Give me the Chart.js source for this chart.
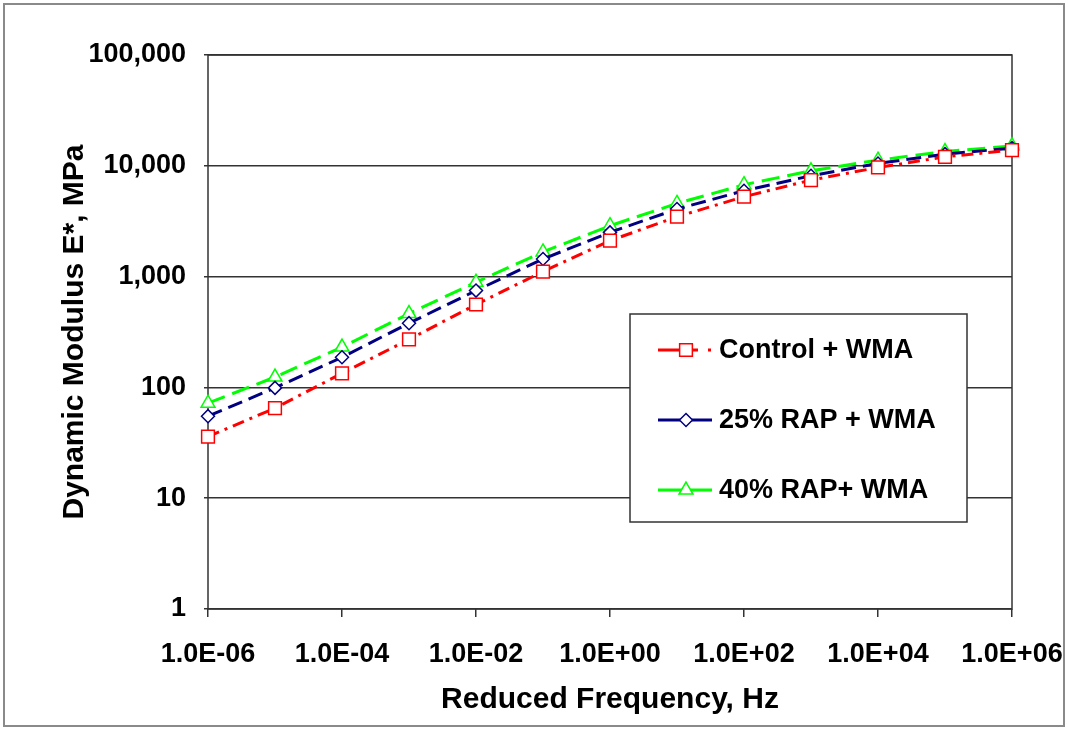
<!DOCTYPE html>
<html>
<head>
<meta charset="utf-8">
<title>Dynamic Modulus</title>
<script src="https://cdn.jsdelivr.net/npm/chart.js@4.4.1/dist/chart.umd.min.js"></script>
<style>
  html, body { margin: 0; padding: 0; background: #fff; }
  #wrap { position: absolute; left: 0; top: 0; width: 1068px; height: 729px; }
</style>
</head>
<body>
<div id="wrap"><canvas id="modulusChart"></canvas></div>
<script>
// reduced frequency, Hz (one point per decade)
const frequencies = [1e-6, 1e-5, 1e-4, 1e-3, 1e-2, 1e-1, 1e0, 1e1, 1e2, 1e3, 1e4, 1e5, 1e6];
// dynamic modulus E*, MPa
const controlWma = [36, 65, 134, 271, 560, 1110, 2110, 3470, 5260, 7430, 9660, 12050, 13850];
const rap25Wma   = [55, 99, 187, 380, 748, 1443, 2506, 4070, 5960, 8130, 10500, 12750, 14440];
const rap40Wma   = [72, 124, 231, 464, 889, 1670, 2880, 4575, 6750, 9020, 11250, 13450, 15140];
const seriesNames = ['Control + WMA', '25% RAP + WMA', '40% RAP+ WMA'];
const xTickValues = [1e-6, 1e-4, 1e-2, 1e0, 1e2, 1e4, 1e6];
const yTickValues = [1, 10, 100, 1000, 10000, 100000];

const FONT = '"Liberation Sans", Arial, sans-serif';

const toPoints = (ys) => frequencies.map((f, i) => ({ x: f, y: ys[i] }));

const fmtExp = (v) => {
    const e = Math.round(Math.log10(v));
    const sign = e < 0 ? '-' : '+';
    return '1.0E' + sign + String(Math.abs(e)).padStart(2, '0');
};

// draw marker shapes for the legend box
const drawMarker = (ctx, style, x, y, r, color) => {
    ctx.save();
    ctx.fillStyle = '#fff';
    ctx.strokeStyle = color;
    ctx.lineWidth = 1.5;
    ctx.setLineDash([]);
    ctx.beginPath();
    if (style === 'rect') {
        const s = r * Math.SQRT1_2;
        ctx.rect(x - s, y - s, 2 * s, 2 * s);
    } else if (style === 'rectRot') {
        ctx.moveTo(x, y - r); ctx.lineTo(x + r, y); ctx.lineTo(x, y + r); ctx.lineTo(x - r, y); ctx.closePath();
    } else {
        ctx.moveTo(x, y - r);
        ctx.lineTo(x + r * Math.cos(Math.PI / 6), y + r / 2);
        ctx.lineTo(x - r * Math.cos(Math.PI / 6), y + r / 2);
        ctx.closePath();
    }
    ctx.fill();
    ctx.stroke();
    ctx.restore();
};

const framePlugin = {
    id: 'frame',
    beforeDatasetsDraw(chart) {
        const { ctx, chartArea: a } = chart;
        ctx.save();
        ctx.strokeStyle = '#333';
        ctx.lineWidth = 1.5;
        ctx.strokeRect(a.left, a.top, a.right - a.left, a.bottom - a.top);
        ctx.restore();
    },
    afterDraw(chart) {
        const { ctx, width, height } = chart;
        ctx.save();
        ctx.strokeStyle = '#8a8a8a';
        ctx.lineWidth = 2;
        ctx.strokeRect(4, 4, width - 8, height - 7);
        ctx.restore();
    }
};

const boxLegend = {
    id: 'boxLegend',
    afterDatasetsDraw(chart) {
        const { ctx, chartArea: a } = chart;
        const bx = a.left + 422, by = a.top + 259, bw = 337, bh = 208;
        ctx.save();
        ctx.fillStyle = '#fff';
        ctx.fillRect(bx, by, bw, bh);
        ctx.strokeStyle = '#333';
        ctx.lineWidth = 1.5;
        ctx.strokeRect(bx, by, bw, bh);
        const rows = [36, 106, 176];
        chart.data.datasets.forEach((ds, i) => {
            const y = by + rows[i];
            ctx.strokeStyle = ds.borderColor;
            ctx.lineWidth = 3;
            ctx.setLineDash(i === 0 ? [40, 10, 3, 50] : []);
            ctx.beginPath();
            ctx.moveTo(bx + 28, y);
            ctx.lineTo(bx + 82, y);
            ctx.stroke();
            drawMarker(ctx, ds.pointStyle, bx + 56, y, ds.pointRadius, ds.borderColor);
            ctx.fillStyle = '#000';
            ctx.font = 'bold 27px ' + FONT;
            ctx.textBaseline = 'middle';
            ctx.textAlign = 'left';
            ctx.fillText(ds.label, bx + 89, y + 1);
        });
        ctx.restore();
    }
};

const ctx = document.getElementById('modulusChart').getContext('2d');
const myChart = new Chart(ctx, {
    type: 'line',
    data: {
        datasets: [
            {
                label: seriesNames[0],
                data: toPoints(controlWma),
                borderColor: '#ff0000',
                borderWidth: 3,
                borderDash: [12, 6, 3, 6],
                pointStyle: 'rect',
                pointRadius: 9,
                pointBackgroundColor: '#fff',
                pointBorderColor: '#ff0000',
                pointBorderWidth: 1.5,
                clip: false
            },
            {
                label: seriesNames[1],
                data: toPoints(rap25Wma),
                borderColor: '#000080',
                borderWidth: 3,
                borderDash: [15, 7],
                pointStyle: 'rectRot',
                pointRadius: 6.5,
                pointBackgroundColor: '#fff',
                pointBorderColor: '#000080',
                pointBorderWidth: 1.5,
                clip: false
            },
            {
                label: seriesNames[2],
                data: toPoints(rap40Wma),
                borderColor: '#00ff00',
                borderWidth: 3,
                borderDash: [18, 8],
                pointStyle: 'triangle',
                pointRadius: 8,
                pointBackgroundColor: '#fff',
                pointBorderColor: '#00ff00',
                pointBorderWidth: 1.5,
                clip: false
            }
        ]
    },
    options: {
        responsive: true,
        maintainAspectRatio: false,
        animation: false,
        layout: { padding: { top: 55, right: 56, bottom: 0, left: 0 } },
        plugins: {
            legend: { display: false },
            tooltip: { enabled: false }
        },
        scales: {
            x: {
                type: 'logarithmic',
                min: 1e-6,
                max: 1e6,
                afterBuildTicks: (scale) => { scale.ticks = xTickValues.map(v => ({ value: v })); },
                afterFit: (scale) => {
                    scale.height = 120;
                    scale.paddingLeft = 0;
                    scale.paddingRight = 0;
                },
                grid: { drawOnChartArea: false, drawTicks: true, tickLength: 8, color: '#333', lineWidth: 1.5 },
                border: { display: false },
                ticks: {
                    autoSkip: false,
                    maxRotation: 0,
                    padding: 21,
                    color: '#000',
                    font: { family: FONT, size: 27, weight: 'bold' },
                    callback: (v) => fmtExp(v)
                },
                title: {
                    display: true,
                    text: 'Reduced Frequency, Hz',
                    color: '#000',
                    font: { family: FONT, size: 30, weight: 'bold' },
                    padding: { top: 0, bottom: 11 }
                }
            },
            y: {
                type: 'logarithmic',
                min: 1,
                max: 100000,
                afterBuildTicks: (scale) => { scale.ticks = yTickValues.map(v => ({ value: v })); },
                afterFit: (scale) => { scale.width = 208; },
                grid: { color: '#333', lineWidth: 1.5, tickLength: 4 },
                border: { display: false },
                ticks: {
                    autoSkip: false,
                    padding: 18,
                    color: '#000',
                    font: { family: FONT, size: 27, weight: 'bold' },
                    callback: (v) => Number(v).toLocaleString('en-US')
                },
                title: {
                    display: true,
                    text: 'Dynamic Modulus E*, MPa',
                    color: '#000',
                    font: { family: FONT, size: 30, weight: 'bold' },
                    padding: { top: 57, bottom: 0 }
                }
            }
        }
    },
    plugins: [framePlugin, boxLegend]
});
</script>
</body>
</html>
